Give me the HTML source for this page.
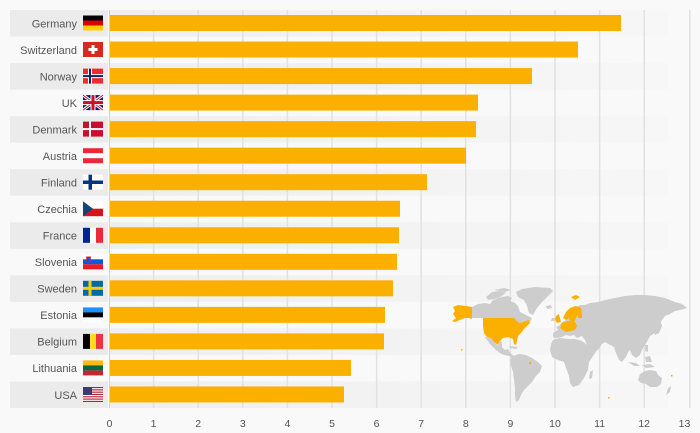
<!DOCTYPE html>
<html><head><meta charset="utf-8"><style>
html,body{margin:0;padding:0;background:#f9f9f9;}
svg{display:block;font-family:"Liberation Sans",sans-serif;}
</style></head><body>
<svg width="700" height="433" viewBox="0 0 700 433" xmlns="http://www.w3.org/2000/svg">
<defs>
<linearGradient id="sg" x1="0" x2="1" y1="0" y2="0">
<stop offset="0" stop-color="#eeeeee"/><stop offset="1" stop-color="#f7f7f7"/>
</linearGradient>
</defs>
<rect width="700" height="433" fill="#f9f9f9"/>
<!-- stripes -->
<g>
<rect x="10" y="10" width="98" height="26.53" fill="#ebebeb"/><rect x="110" y="10" width="558" height="26.53" fill="url(#sg)"/>
<rect x="10" y="63.07" width="98" height="26.53" fill="#ebebeb"/><rect x="110" y="63.07" width="558" height="26.53" fill="url(#sg)"/>
<rect x="10" y="116.13" width="98" height="26.53" fill="#ebebeb"/><rect x="110" y="116.13" width="558" height="26.53" fill="url(#sg)"/>
<rect x="10" y="169.2" width="98" height="26.53" fill="#ebebeb"/><rect x="110" y="169.2" width="558" height="26.53" fill="url(#sg)"/>
<rect x="10" y="222.27" width="98" height="26.53" fill="#ebebeb"/><rect x="110" y="222.27" width="558" height="26.53" fill="url(#sg)"/>
<rect x="10" y="275.33" width="98" height="26.53" fill="#ebebeb"/><rect x="110" y="275.33" width="558" height="26.53" fill="url(#sg)"/>
<rect x="10" y="328.4" width="98" height="26.53" fill="#ebebeb"/><rect x="110" y="328.4" width="558" height="26.53" fill="url(#sg)"/>
<rect x="10" y="381.47" width="98" height="26.53" fill="#ebebeb"/><rect x="110" y="381.47" width="558" height="26.53" fill="url(#sg)"/>
</g>
<!-- gridlines -->
<g stroke="#e1e1e1" stroke-width="1.5">
<line x1="153.6" y1="10" x2="153.6" y2="408"/>
<line x1="198.2" y1="10" x2="198.2" y2="408"/>
<line x1="242.8" y1="10" x2="242.8" y2="408"/>
<line x1="287.4" y1="10" x2="287.4" y2="408"/>
<line x1="332" y1="10" x2="332" y2="408"/>
<line x1="376.6" y1="10" x2="376.6" y2="408"/>
<line x1="421.2" y1="10" x2="421.2" y2="408"/>
<line x1="465.8" y1="10" x2="465.8" y2="408"/>
<line x1="510.4" y1="10" x2="510.4" y2="408"/>
<line x1="555" y1="10" x2="555" y2="408"/>
<line x1="599.6" y1="10" x2="599.6" y2="408"/>
<line x1="644.2" y1="10" x2="644.2" y2="408"/>
<line x1="689.8" y1="10" x2="689.8" y2="408"/>
</g>
<!-- map -->
<g fill="#cdcdcd">
<polygon points="472,307 478,304 485,303 490,304 493,300 498,298 502,297 508,296 512,298 510,301 515,303 518,306 520,312 524,314 528,316 532,318 530,322 526,323 522,322 518,324 514,320 510,318 500,318 483,318 472,318"/>
<polygon points="486,297 492,292 500,291 506,293 500,297 494,299 488,300"/>
<polygon points="494,290 504,288 511,290 505,292"/>
<polygon points="516,292 522,289 535,287 550,288 553,291 548,296 542,302 537,308 533,315 529,313 527,306 524,300 518,297"/>
<polygon points="485,337 491,338 494,342 498,346 500,341 502,342 502,347 505,350 508,349 510,353 514,356 516,359 513,359 509,356 504,355 500,353 495,349 490,344 487,340"/>
<polygon points="509,346 518,347 516,349 510,348"/>
<polygon points="513,356 519,354 526,355 532,358 538,362 542,366 540,372 536,376 532,382 528,386 524,390 521,395 519,400 516,402 515,396 515,388 514,380 513,372 511,366 510,360"/>
<polygon points="546,306 551,305 552,308 547,309"/>
<polygon points="553,333 558,330 556,327 560,325 562,322 566,320 568,316 572,313 575,308 580,305 585,305 590,303 598,302 605,300 615,298 625,296 635,295 645,295 655,296 665,298 675,302 682,304 687,308 680,310 675,311 670,314 665,316 662,320 660,323 657,328 655,333 650,336 648,340 645,345 642,350 640,355 636,358 632,355 630,350 628,352 626,357 622,362 619,360 616,353 614,347 610,345 605,342 602,344 598,350 592,352 588,348 585,340 582,336 577,338 574,335 570,336 566,335 562,337 557,338 553,337"/>
<polygon points="553,340 560,338 568,339 575,339 582,341 587,345 592,349 597,350 593,356 589,362 588,370 584,378 579,385 573,387 570,383 569,376 566,368 564,362 558,360 552,357 550,350 551,344"/>
<polygon points="590,372 593,370 592,378 589,379"/>
<polygon points="656,322 660,320 662,326 659,333 655,335 654,331"/>
<polygon points="628,362 636,363 640,366 634,366"/>
<polygon points="642,365 650,364 655,367 646,368"/>
<polygon points="645,357 650,356 652,362 646,362"/>
<polygon points="645,345 648,345 648,352 645,351"/>
<polygon points="640,374 645,371 650,370 656,371 658,375 662,378 661,384 657,387 650,387 646,384 641,383 638,380"/>
<polygon points="668,388 671,386 670,392 666,395"/>
<polygon points="552,318 555,318 554,321 551,321"/>
</g>
<g fill="#fbb000">
<polygon points="453,307 458,305 466,306 472,307 472,319 469,318 465,318 460,320 455,322 452,321 456,318 453,314 455,311"/>
<polygon points="483,318 514,318 517,321 519,323 523,322 529,320 530,323 527,326 524,329 521,333 518,336 517,341 516,345 514,344 513,339 508,337 503,338 500,341 498,345 494,342 491,338 487,337 484,333 483,326"/>
<polygon points="563,318 566,312 570,308 575,306 580,307 582,310 578,313 576,318 574,322 571,322 569,318 566,320"/>
<polygon points="576,309 581,309 582,316 578,318"/>
<polygon points="562,323 568,321 575,322 577,326 575,330 570,331 566,332 563,330 560,328"/>
<polygon points="556,316 559,314 560,318 561,322 557,323 555,320"/>
<polygon points="571,297 576,295 580,297 575,300"/>
<polygon points="578,314 582,314 582,318 579,318"/>
<rect x="461" y="349" width="1.5" height="1.5"/>
<rect x="529" y="362" width="2" height="2"/>
<rect x="671" y="375" width="1.5" height="1.5"/>
<rect x="608" y="397" width="1.5" height="1.5"/>
</g>
<!-- axis line -->
<line x1="109.5" y1="10" x2="109.5" y2="408" stroke="#c9d3df" stroke-width="1"/>
<!-- bars -->
<g fill="#fbb000">
<rect x="110" y="15" width="511" height="16"/>
<rect x="110" y="41.53" width="468" height="16"/>
<rect x="110" y="68.07" width="422" height="16"/>
<rect x="110" y="94.6" width="368" height="16"/>
<rect x="110" y="121.13" width="366" height="16"/>
<rect x="110" y="147.67" width="356" height="16"/>
<rect x="110" y="174.2" width="317" height="16"/>
<rect x="110" y="200.73" width="290" height="16"/>
<rect x="110" y="227.27" width="289" height="16"/>
<rect x="110" y="253.8" width="287" height="16"/>
<rect x="110" y="280.33" width="283" height="16"/>
<rect x="110" y="306.87" width="275" height="16"/>
<rect x="110" y="333.4" width="274" height="16"/>
<rect x="110" y="359.93" width="241" height="16"/>
<rect x="110" y="386.47" width="234" height="16"/>
</g>
<!-- labels -->
<g font-size="11" fill="#555" text-anchor="end">
<text x="77" y="27.3">Germany</text>
<text x="77" y="53.8">Switzerland</text>
<text x="77" y="80.4">Norway</text>
<text x="77" y="106.9">UK</text>
<text x="77" y="133.4">Denmark</text>
<text x="77" y="160">Austria</text>
<text x="77" y="186.5">Finland</text>
<text x="77" y="213">Czechia</text>
<text x="77" y="239.6">France</text>
<text x="77" y="266.1">Slovenia</text>
<text x="77" y="292.6">Sweden</text>
<text x="77" y="319.2">Estonia</text>
<text x="77" y="345.7">Belgium</text>
<text x="77" y="372.2">Lithuania</text>
<text x="77" y="398.8">USA</text>
</g>
<!-- ticks -->
<g font-size="10.5" fill="#555" text-anchor="middle">
<text x="109.5" y="427">0</text>
<text x="153.6" y="427">1</text>
<text x="198.2" y="427">2</text>
<text x="242.8" y="427">3</text>
<text x="287.4" y="427">4</text>
<text x="332" y="427">5</text>
<text x="376.6" y="427">6</text>
<text x="421.2" y="427">7</text>
<text x="465.8" y="427">8</text>
<text x="510.4" y="427">9</text>
<text x="555" y="427">10</text>
<text x="599.6" y="427">11</text>
<text x="644.2" y="427">12</text>
<text x="684.5" y="427">13</text>
</g>
<!-- flags -->
<!-- Germany -->
<g transform="translate(83,15.5)"><rect width="20" height="5" fill="#000"/><rect y="5" width="20" height="5" fill="#dd0000"/><rect y="10" width="20" height="5" fill="#ffce00"/></g>
<!-- Switzerland -->
<g transform="translate(83,42)"><rect width="20" height="15" fill="#d52b1e"/><rect x="8.5" y="3" width="3" height="9" fill="#fff"/><rect x="5.5" y="6" width="9" height="3" fill="#fff"/></g>
<!-- Norway -->
<g transform="translate(83,68.6)"><rect width="20" height="15" fill="#ef2b2d"/><rect x="5" width="4" height="15" fill="#fff"/><rect y="5.5" width="20" height="4" fill="#fff"/><rect x="6" width="2" height="15" fill="#002868"/><rect y="6.5" width="20" height="2" fill="#002868"/></g>
<!-- UK -->
<g transform="translate(83,95.1)"><rect width="20" height="15" fill="#012169"/><path d="M0,0L20,15M20,0L0,15" stroke="#fff" stroke-width="3"/><path d="M0,0L20,15M20,0L0,15" stroke="#c8102e" stroke-width="1"/><rect x="7.5" width="5" height="15" fill="#fff"/><rect y="5" width="20" height="5" fill="#fff"/><rect x="8.5" width="3" height="15" fill="#c8102e"/><rect y="6" width="20" height="3" fill="#c8102e"/></g>
<!-- Denmark -->
<g transform="translate(83,121.6)"><rect width="20" height="15" fill="#c8102e"/><rect x="6" width="2" height="15" fill="#fff"/><rect y="6.5" width="20" height="2" fill="#fff"/></g>
<!-- Austria -->
<g transform="translate(83,148.2)"><rect width="20" height="15" fill="#ed2939"/><rect y="5" width="20" height="5" fill="#fff"/></g>
<!-- Finland -->
<g transform="translate(83,174.7)"><rect width="20" height="15" fill="#fff"/><rect x="5.5" width="3.5" height="15" fill="#003580"/><rect y="5.8" width="20" height="3.5" fill="#003580"/></g>
<!-- Czechia -->
<g transform="translate(83,201.2)"><rect width="20" height="7.5" fill="#fff"/><rect y="7.5" width="20" height="7.5" fill="#d7141a"/><polygon points="0,0 10,7.5 0,15" fill="#11457e"/></g>
<!-- France -->
<g transform="translate(83,227.8)"><rect width="7" height="15" fill="#002395"/><rect x="7" width="6" height="15" fill="#fff"/><rect x="13" width="7" height="15" fill="#ed2939"/></g>
<!-- Slovenia -->
<g transform="translate(83,254.3)"><rect width="20" height="5" fill="#fff"/><rect y="5" width="20" height="5" fill="#005ce5"/><rect y="10" width="20" height="5" fill="#ed1c24"/><rect x="3.5" y="2.5" width="4" height="5" fill="#005ce5" stroke="#ed1c24" stroke-width="0.6"/></g>
<!-- Sweden -->
<g transform="translate(83,280.8)"><rect width="20" height="15" fill="#006aa7"/><rect x="5.5" width="3" height="15" fill="#fecc00"/><rect y="6" width="20" height="3" fill="#fecc00"/></g>
<!-- Estonia -->
<g transform="translate(83,307.4)"><rect width="20" height="5" fill="#1e90ff"/><rect y="5" width="20" height="5" fill="#000"/><rect y="10" width="20" height="5" fill="#fff"/></g>
<!-- Belgium -->
<g transform="translate(83,333.9)"><rect width="7" height="15" fill="#000"/><rect x="7" width="6" height="15" fill="#fdda24"/><rect x="13" width="7" height="15" fill="#ef3340"/></g>
<!-- Lithuania -->
<g transform="translate(83,360.4)"><rect width="20" height="5" fill="#fdb913"/><rect y="5" width="20" height="5" fill="#006a44"/><rect y="10" width="20" height="5" fill="#c1272d"/></g>
<!-- USA -->
<g transform="translate(83,387)"><rect width="20" height="15" fill="#fff"/>
<g fill="#b22234"><rect y="0" width="20" height="1.15"/><rect y="2.3" width="20" height="1.15"/><rect y="4.6" width="20" height="1.15"/><rect y="6.9" width="20" height="1.15"/><rect y="9.2" width="20" height="1.15"/><rect y="11.5" width="20" height="1.15"/><rect y="13.85" width="20" height="1.15"/></g>
<rect width="9" height="8" fill="#3c3b6e"/></g>
</svg>
</body></html>
